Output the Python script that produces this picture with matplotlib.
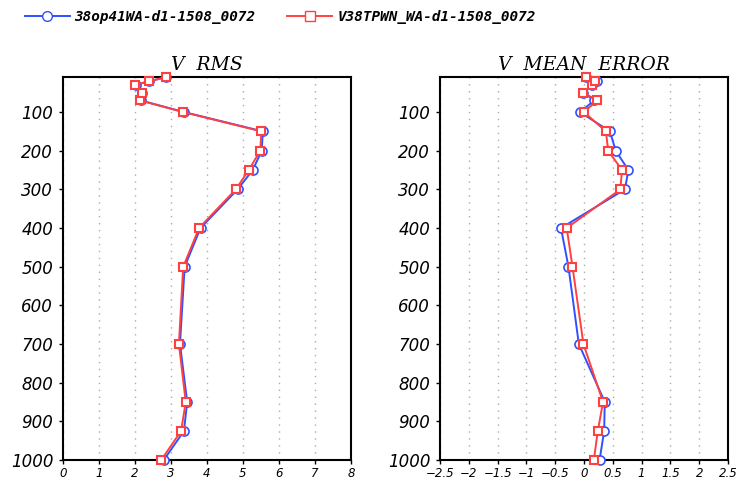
import numpy as np
import matplotlib.pyplot as plt
from matplotlib.lines import Line2D

levels = [1000, 925, 850, 700, 500, 400, 300, 250, 200, 150, 100, 70, 50, 30, 20, 10]

rms_a = [2.80, 3.36, 3.45, 3.25, 3.38, 3.82, 4.85, 5.27, 5.52, 5.55, 3.36, 2.16, 2.20, 2.02, 2.40, 2.87]
rms_b = [2.73, 3.28, 3.41, 3.22, 3.34, 3.78, 4.80, 5.16, 5.48, 5.51, 3.34, 2.14, 2.19, 2.00, 2.39, 2.86]
err_a = [0.27, 0.35, 0.36, -0.09, -0.27, -0.40, 0.71, 0.77, 0.55, 0.45, -0.07, 0.18, -0.01, 0.14, 0.22, 0.04]
err_b = [0.17, 0.24, 0.33, -0.01, -0.20, -0.30, 0.63, 0.66, 0.42, 0.38, 0.00, 0.23, -0.01, 0.14, 0.19, 0.04]

name_a = '38op41WA-d1-1508_0072'
name_b = 'V38TPWN_WA-d1-1508_0072'

blue = '#3050ff'
red = '#ff4040'
tick_font = dict(family='DejaVu Sans', style='oblique')
title_font = dict(family='DejaVu Serif', style='italic', size=13.5)

fig = plt.figure(figsize=(7.56, 4.79), dpi=100)
ax1 = fig.add_axes([0.0833, 0.0397, 0.381, 0.799])
ax2 = fig.add_axes([0.582, 0.0397, 0.381, 0.799])

panels = [
    (ax1, rms_a, rms_b, 'V  RMS', (0, 8), np.arange(0, 9, 1), [str(v) for v in range(9)]),
    (ax2, err_a, err_b, 'V  MEAN  ERROR', (-2.5, 2.5), np.arange(-2.5, 2.51, 0.5),
     ['\u22122.5', '\u22122', '\u22121.5', '\u22121', '\u22120.5', '0', '0.5', '1', '1.5', '2', '2.5']),
]

for ax, a, b, title, xl, xt, xtl in panels:
    ax.plot(a, levels, color=blue, lw=1.4, marker='o', ms=6.5, mfc='white',
            mec=blue, mew=1.2, clip_on=False, zorder=3)
    ax.plot(b, levels, color=red, lw=1.4, marker='s', ms=6, mfc='white',
            mec=red, mew=1.5, clip_on=False, zorder=4)
    ax.set_ylim(1000, 10)
    ax.set_xlim(*xl)
    ax.set_yticks(range(100, 1001, 100))
    ax.set_yticklabels([str(v) for v in range(100, 1001, 100)], fontsize=12, **tick_font)
    ax.set_xticks(xt)
    ax.set_xticklabels(xtl, fontsize=8.5, **tick_font)
    ax.tick_params(axis='y', length=3, width=1, pad=4)
    ax.tick_params(axis='x', length=3, width=1, pad=2)
    ax.grid(axis='x', color='#aaaaaa', ls=(0, (1, 4)), lw=1)
    for s in ax.spines.values():
        s.set_linewidth(1.5)
    ax.set_title(title, pad=5, **title_font)

handles = [
    Line2D([], [], color=blue, lw=1.4, marker='o', ms=7, mfc='white', mec=blue),
    Line2D([], [], color=red, lw=1.4, marker='s', ms=7, mfc='white', mec=red),
]
fig.legend(handles, [name_a, name_b], loc='upper left', bbox_to_anchor=(0.0155, 1.005),
           ncol=2, frameon=False, handlelength=3.15, handletextpad=0.35, columnspacing=2.2,
           prop=dict(family='DejaVu Sans Mono', style='oblique', size=10.3, weight='semibold'))

fig.savefig('out.png', dpi=100)
